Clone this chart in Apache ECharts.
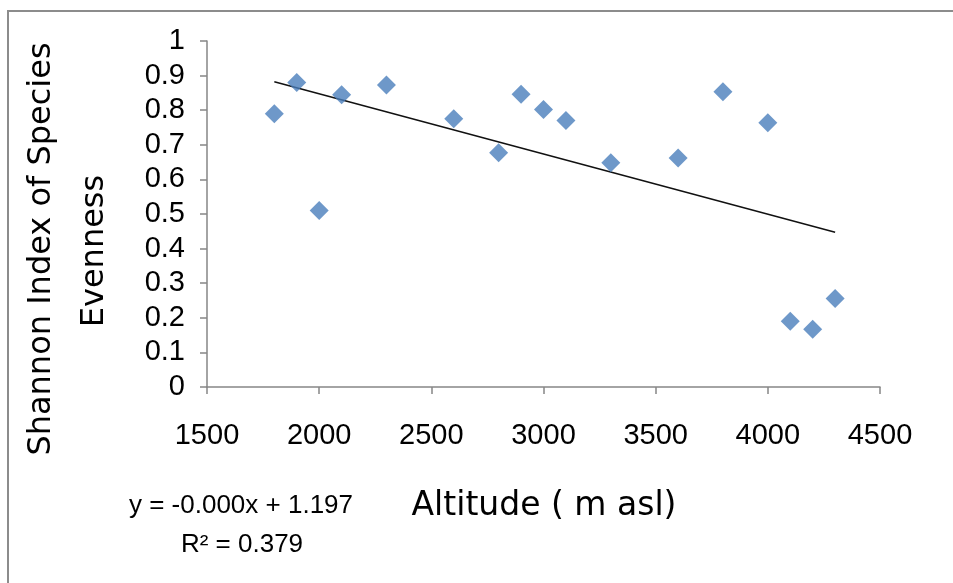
<!DOCTYPE html>
<html>
<head>
<meta charset="utf-8">
<script src="https://cdn.jsdelivr.net/npm/echarts@6/dist/echarts.min.js"></script>
<style>html,body{margin:0;padding:0;background:#fff;overflow:hidden;}#c{width:953px;height:583px;}</style>
</head>
<body>
<div id="c"></div>
<script>
// Data
const altitude = [1800, 1900, 2000, 2100, 2300, 2600, 2800, 2900, 3000, 3100, 3300, 3600, 3800, 4000, 4100, 4200, 4300];
const evenness = [0.79, 0.88, 0.51, 0.845, 0.873, 0.775, 0.677, 0.846, 0.802, 0.77, 0.648, 0.662, 0.853, 0.764, 0.19, 0.167, 0.256];
const trendX = [1800, 4300];
const trendY = [0.882, 0.447];
const xTicks = ['1500', '2000', '2500', '3000', '3500', '4000', '4500'];
const yTicks = ['0', '0.1', '0.2', '0.3', '0.4', '0.5', '0.6', '0.7', '0.8', '0.9', '1'];
const xName = 'Altitude ( m asl)';
const yNameLines = ['Shannon Index of Species', 'Evenness'];
const eqLines = ['y = -0.000x + 1.197', 'R² = 0.379'];

const chart = echarts.init(document.getElementById('c'), null, {renderer: 'canvas'});
const axisGray = '#868686';
const xMin = Number(xTicks[0]), xMax = Number(xTicks[xTicks.length - 1]), xStep = Number(xTicks[1]) - Number(xTicks[0]);
const option = {
  animation: false,
  backgroundColor: '#fff',
  grid: {left: 207, right: 73, top: 41, bottom: 196, containLabel: false},
  xAxis: {
    type: 'value',
    min: xMin, max: xMax, interval: xStep,
    axisLine: {show: true, lineStyle: {color: axisGray, width: 1.5}},
    axisTick: {show: true, length: 7, lineStyle: {color: axisGray, width: 1.5}},
    splitLine: {show: false},
    axisLabel: {
      color: '#000', fontFamily: 'Liberation Sans', fontSize: 29, margin: 34,
      formatter: function (v) { return xTicks[Math.round((v - xMin) / xStep)]; }
    }
  },
  yAxis: {
    type: 'value',
    min: 0, max: 1, interval: 0.1,
    axisLine: {show: true, lineStyle: {color: axisGray, width: 1.5}},
    axisTick: {show: true, length: 7, lineStyle: {color: axisGray, width: 1.5}},
    splitLine: {show: false},
    axisLabel: {
      color: '#000', fontFamily: 'Liberation Sans', fontSize: 29, margin: 22,
      formatter: function (v) { return yTicks[Math.round(v * 10)]; }
    }
  },
  series: [
    {
      type: 'line',
      data: trendX.map((x, i) => [x, trendY[i]]),
      showSymbol: false, symbol: 'none',
      lineStyle: {color: '#111', width: 1.5},
      z: 2
    },
    {
      type: 'scatter',
      data: altitude.map((x, i) => [x, evenness[i]]),
      symbol: 'diamond', symbolSize: [19, 19],
      itemStyle: {color: '#4A7EBB'},
      z: 3
    }
  ],
  graphic: [
    {type: 'polyline', shape: {points: [[8, 2000], [8, 11], [2000, 11]]}, style: {fill: 'none', stroke: '#8c8c8c', lineWidth: 2}, silent: true, z: -1},
    {type: 'text', x: 544, y: 506, style: {text: xName, font: '33px "DejaVu Sans"', fill: '#000', textAlign: 'center', textVerticalAlign: 'middle'}},
    {type: 'text', x: 42, y: 249, rotation: Math.PI / 2, style: {text: yNameLines[0], font: '32px "DejaVu Sans"', fill: '#000', textAlign: 'center', textVerticalAlign: 'middle'}},
    {type: 'text', x: 95, y: 251, rotation: Math.PI / 2, style: {text: yNameLines[1], font: '32px "DejaVu Sans"', fill: '#000', textAlign: 'center', textVerticalAlign: 'middle'}},
    {type: 'text', x: 241, y: 506, style: {text: eqLines[0], font: '26px "Liberation Sans"', fill: '#000', textAlign: 'center', textVerticalAlign: 'middle'}},
    {type: 'text', x: 242, y: 545, style: {text: eqLines[1], font: '26px "Liberation Sans"', fill: '#000', textAlign: 'center', textVerticalAlign: 'middle'}}
  ]
};
chart.setOption(option);
</script>
</body>
</html>
